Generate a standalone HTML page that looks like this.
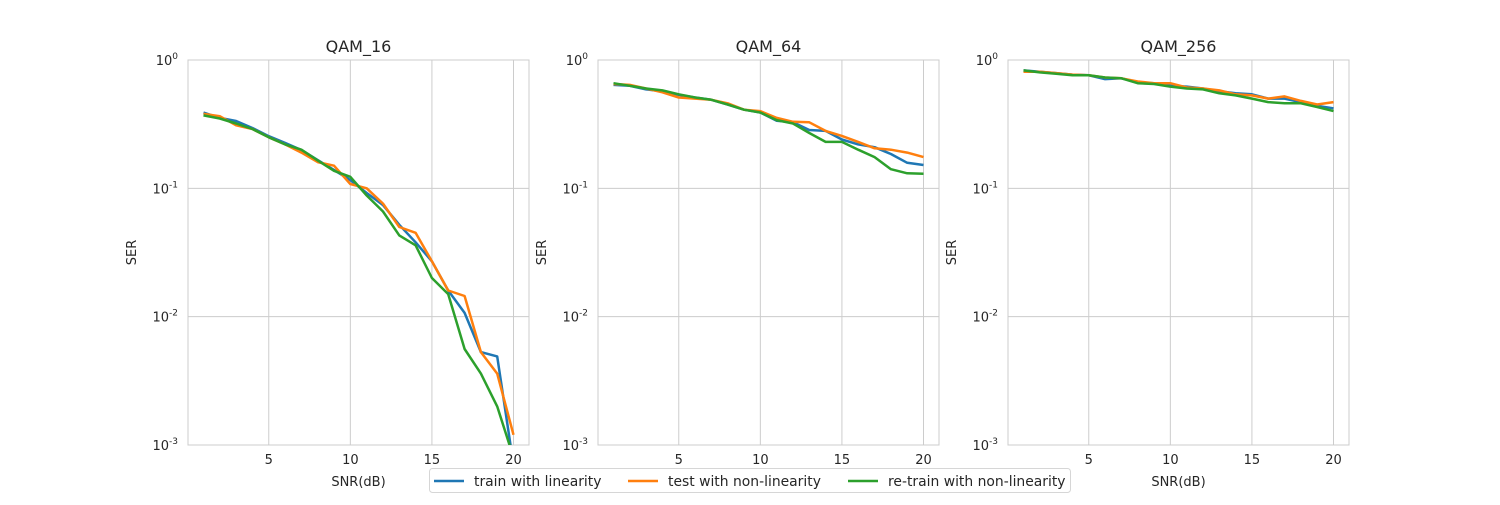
<!DOCTYPE html>
<html><head><meta charset="utf-8"><style>
body{margin:0;background:#fff}
svg text{font-family:"DejaVu Sans","Liberation Sans",sans-serif;fill:#262626}
</style></head><body>
<svg id="chart" width="1500" height="500" xmlns="http://www.w3.org/2000/svg">
<rect width="1500" height="500" fill="#fff"/>
<g id="plots"></g>
<g>
<rect x="429.5" y="468.5" width="641" height="24" rx="3" fill="#fff" stroke="#ccc" stroke-opacity="0.8"/>
<g><line x1="434" y1="481" x2="464" y2="481" stroke="#1f77b4" stroke-width="2.5"/><text x="474" y="485.8" font-size="13.9">train with linearity</text></g>
<g><line x1="628" y1="481" x2="658" y2="481" stroke="#ff7f0e" stroke-width="2.5"/><text x="668" y="485.8" font-size="13.9">test with non-linearity</text></g>
<g><line x1="848" y1="481" x2="878" y2="481" stroke="#2ca02c" stroke-width="2.5"/><text x="888" y="485.8" font-size="13.9">re-train with non-linearity</text></g>
</g>
</svg>
<script>
const snr = [1,2,3,4,5,6,7,8,9,10,11,12,13,14,15,16,17,18,19,20];
const xTicks = [5,10,15,20];
const yTicks = [-3,-2,-1,0];
const titles = ["QAM_16","QAM_64","QAM_256"];
const q16Train = [0.39,0.354,0.335,0.295,0.255,0.226,0.199,0.166,0.139,0.116,0.092,0.074,0.052,0.038,0.027,0.016,0.0107,0.0053,0.0049,0.0007];
const q16Test = [0.38,0.365,0.31,0.29,0.25,0.22,0.19,0.16,0.15,0.108,0.1,0.076,0.05,0.045,0.027,0.016,0.0145,0.0053,0.0036,0.0012];
const q16Retrain = [0.37,0.35,0.32,0.29,0.25,0.22,0.2,0.165,0.137,0.123,0.088,0.066,0.043,0.036,0.02,0.015,0.0056,0.0036,0.002,0.0008];
const q64Train = [0.64,0.63,0.59,0.57,0.535,0.51,0.49,0.45,0.41,0.39,0.336,0.327,0.285,0.28,0.24,0.22,0.209,0.185,0.158,0.152];
const q64Test = [0.65,0.64,0.6,0.56,0.51,0.5,0.49,0.46,0.41,0.4,0.354,0.33,0.327,0.28,0.256,0.23,0.205,0.2,0.19,0.175];
const q64Retrain = [0.66,0.63,0.6,0.58,0.54,0.51,0.49,0.45,0.41,0.39,0.34,0.32,0.27,0.23,0.23,0.2,0.175,0.141,0.131,0.13];
const q256Train = [0.83,0.81,0.79,0.77,0.76,0.71,0.72,0.67,0.66,0.63,0.62,0.6,0.57,0.55,0.54,0.5,0.5,0.47,0.44,0.42];
const q256Test = [0.81,0.81,0.79,0.77,0.76,0.73,0.72,0.68,0.66,0.66,0.61,0.6,0.58,0.54,0.53,0.5,0.52,0.48,0.45,0.47];
const q256Retrain = [0.83,0.8,0.78,0.76,0.76,0.73,0.72,0.66,0.65,0.62,0.6,0.59,0.55,0.53,0.5,0.47,0.46,0.46,0.43,0.4];

const panels = [[q16Train,q16Test,q16Retrain],[q64Train,q64Test,q64Retrain],[q256Train,q256Test,q256Retrain]];
const colors = ["#1f77b4","#ff7f0e","#2ca02c"];
const seriesNames = ["train","test","retrain"];
const lefts = [188,598,1008];
const W = 341, TOP = 60, H = 385;
const NS = "http://www.w3.org/2000/svg";
const root = document.getElementById("plots");
function mk(tag, attrs, parent){const e=document.createElementNS(NS,tag);for(const k in attrs)e.setAttribute(k,attrs[k]);parent.appendChild(e);return e;}

panels.forEach((series, p) => {
  const L = lefts[p];
  const xs = v => L + (v - 0.05) / 20.9 * W;
  const ys = v => TOP + (-Math.log10(v)) / 3 * H;
  const g = mk("g", {}, root);
  
  
  const clipId = "clip" + p;
  const cp = mk("clipPath", {id: clipId}, g);
  mk("rect", {x: L, y: TOP, width: W, height: H}, cp);
  xTicks.forEach(t => {
    const x = xs(t);
    mk("line", {x1: x, y1: TOP, x2: x, y2: TOP + H, stroke: "#ccc", "stroke-width": 1}, g);
    const tx = mk("text", {x: x, y: TOP + H + 19, "font-size": 13, "text-anchor": "middle"}, g);
    tx.textContent = t;
    
    
  });
  yTicks.forEach(t => {
    const y = TOP + (-t) / 3 * H;
    mk("line", {x1: L, y1: y, x2: L + W, y2: y, stroke: "#ccc", "stroke-width": 1}, g);
    const tx = mk("text", {x: L - 10, y: y + 5, "font-size": 13, "text-anchor": "end"}, g);
    tx.innerHTML = '10<tspan dy="-6" font-size="9">' + t + '</tspan>';
    
    
  });
  mk("rect", {x: L, y: TOP, width: W, height: H, fill: "none", stroke: "#ccc", "stroke-width": 1}, g);
  series.forEach((vals, s) => {
    const d = vals.map((v, i) => (i ? "L" : "M") + xs(snr[i]).toFixed(1) + "," + ys(v).toFixed(1)).join(" ");
    const path = mk("path", {d: d, fill: "none", stroke: colors[s], "stroke-width": 2.5, "stroke-linejoin": "round", "clip-path": "url(#" + clipId + ")"}, g);
    
    
  });
  const t = mk("text", {x: L + W / 2, y: TOP - 8, "font-size": 16, "text-anchor": "middle"}, g);
  t.textContent = titles[p];
  
  
  const xl = mk("text", {x: L + W / 2, y: 486, "font-size": 13, "text-anchor": "middle"}, g);
  xl.textContent = "SNR(dB)";
  
  
  const yl = mk("text", {x: 0, y: 0, "font-size": 13, "text-anchor": "middle", transform: "translate(" + (L - 52) + "," + (TOP + H / 2) + ") rotate(-90)"}, g);
  yl.textContent = "SER";
  
  
});
</script>
</body></html>
